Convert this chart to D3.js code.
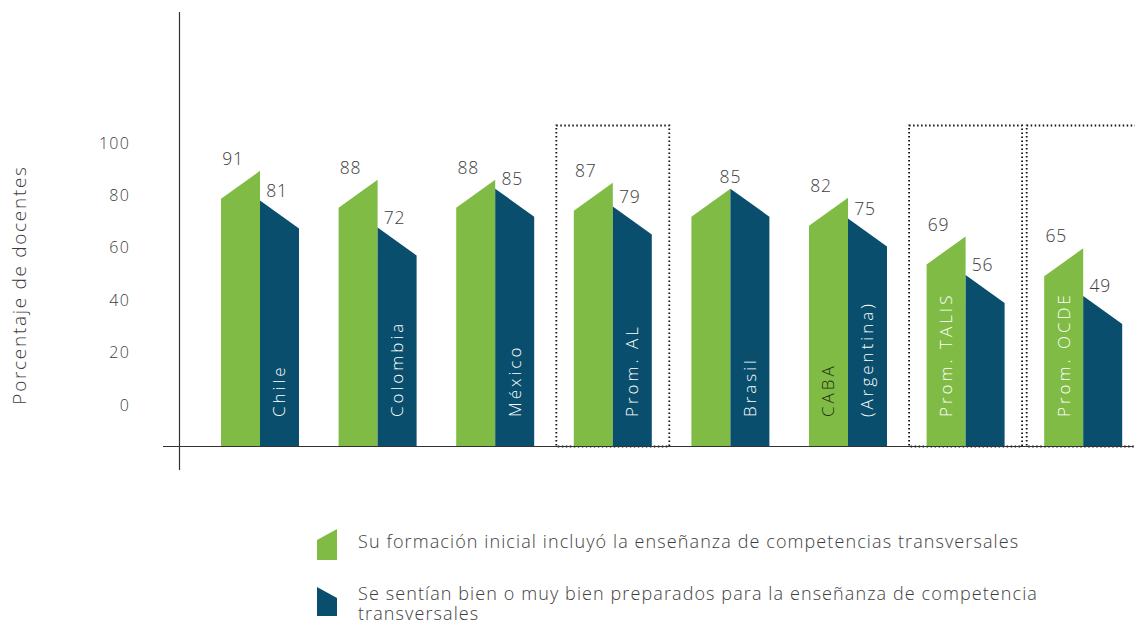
<!DOCTYPE html>
<html>
<head>
<meta charset="utf-8">
<script src="https://cdn.jsdelivr.net/npm/d3@7"></script>
<style>
  html, body { margin: 0; padding: 0; background: #ffffff; }
  svg { display: block; font-family: "Open Sans", "DejaVu Sans", sans-serif; font-weight: 300; }
</style>
</head>
<body>
<svg id="chart" width="1135" height="623"></svg>
<script>
// ---- data ----
const categories = ["Chile", "Colombia", "México", "Prom. AL", "Brasil", "CABA (Argentina)", "Prom. TALIS", "Prom. OCDE"];
const formacion = [91, 88, 88, 87, 85, 82, 69, 65];      // Su formación inicial incluyó...
const preparados = [81, 72, 85, 79, 85, 75, 56, 49];     // Se sentían bien o muy bien preparados...
const categoryLines = [["Chile"], ["Colombia"], ["México"], ["Prom. AL"], ["Brasil"], ["CABA", "(Argentina)"], ["Prom. TALIS"], ["Prom. OCDE"]];
const yTicks = [0, 20, 40, 60, 80, 100];
const seriesNames = [
  "Su formación inicial incluyó la enseñanza de competencias transversales",
  "Se sentían bien o muy bien preparados para la enseñanza de competencia transversales"
];
const axisTitle = "Porcentaje de docentes";

// ---- layout ----
const svg = d3.select("#chart");
const GREEN = "#80bc45";
const BLUE = "#0a4e6d";
const TEXT = "#3d3d3d";
const baseY = 446.5;
const slant = 28;

const x = d3.scaleBand().domain(categories).range([221, 1122.2]).paddingInner(0.3367).paddingOuter(0);
const w = x.bandwidth() / 2;
const y = d3.scaleLinear().domain([0, 100]).range([442, 144]);
const yLab = d3.scaleLinear().domain([0, 100]).range([405, 143]);

// dotted boxes for averages
const avgCats = categories.filter(c => c.startsWith("Prom."));
svg.append("g").selectAll("rect").data(avgCats).join("rect")
  .attr("x", c => x(c) - 17.5)
  .attr("y", 125.5)
  .attr("width", x.bandwidth() + 35)
  .attr("height", baseY - 125.5)
  .attr("fill", "none")
  .attr("stroke", "#111")
  .attr("stroke-width", 1.8)
  .attr("stroke-dasharray", "1.5,2.5");

// bars
const data = categories.map((c, i) => ({ c, g: formacion[i], b: preparados[i], lines: categoryLines[i] }));
const bars = svg.append("g");
bars.selectAll("path.green").data(data).join("path").attr("class", "green")
  .attr("fill", GREEN)
  .attr("d", d => {
    const x0 = x(d.c), yv = y(d.g);
    return `M${x0},${yv + slant}L${x0 + w},${yv}L${x0 + w},${baseY}L${x0},${baseY}Z`;
  });
bars.selectAll("path.blue").data(data).join("path").attr("class", "blue")
  .attr("fill", BLUE)
  .attr("d", d => {
    const x0 = x(d.c) + w, yv = y(d.b);
    return `M${x0},${yv}L${x0 + w},${yv + slant}L${x0 + w},${baseY}L${x0},${baseY}Z`;
  });

// axes lines
svg.append("line").attr("x1", 163).attr("x2", 1133).attr("y1", baseY).attr("y2", baseY)
  .attr("stroke", "#333").attr("stroke-width", 1.2);
svg.append("line").attr("x1", 179.5).attr("x2", 179.5).attr("y1", 12).attr("y2", 470)
  .attr("stroke", "#333").attr("stroke-width", 1.2);

// y tick labels
svg.append("g").selectAll("text").data(yTicks).join("text")
  .attr("x", 130).attr("y", t => yLab(t)).attr("dy", "0.35em")
  .attr("text-anchor", "end").attr("fill", TEXT)
  .style("font-size", "16px").style("letter-spacing", "1.2px")
  .text(t => t);

// axis title
svg.append("text")
  .attr("transform", `translate(19,285) rotate(-90)`)
  .attr("text-anchor", "middle").attr("dy", "0.35em")
  .attr("fill", TEXT).style("font-size", "19px").style("letter-spacing", "1.7px")
  .text(axisTitle);

// value labels
const vl = svg.append("g").attr("fill", TEXT).style("font-size", "17.5px").style("letter-spacing", "0.8px");
data.forEach(d => {
  if (d.g === d.b) {
    vl.append("text").attr("x", x(d.c) + w).attr("y", y(d.g) - 12).attr("dy", "0.35em")
      .attr("text-anchor", "middle").text(d.g);
  } else {
    vl.append("text").attr("x", x(d.c) + 12).attr("y", y(d.g) - 12).attr("dy", "0.35em")
      .attr("text-anchor", "middle").text(d.g);
    vl.append("text").attr("x", x(d.c) + w + 17).attr("y", y(d.b) - 10).attr("dy", "0.35em")
      .attr("text-anchor", "middle").text(d.b);
  }
});

// category labels (rotated, inside bars)
const cl = svg.append("g").style("font-size", "17px").style("letter-spacing", "3px");
data.forEach(d => {
  const onGreen = d.g < 70; // short blue bars: label sits on the green bar
  if (d.lines.length === 2) {
    cl.append("text").attr("transform", `translate(${x(d.c) + w / 2},417) rotate(-90)`)
      .attr("dy", "0.35em").attr("fill", "#1e2a12").text(d.lines[0]);
    cl.append("text").attr("transform", `translate(${x(d.c) + w * 1.5},417) rotate(-90)`)
      .attr("dy", "0.35em").attr("fill", "#ffffff").text(d.lines[1]);
  } else {
    const cx = onGreen ? x(d.c) + w / 2 : x(d.c) + w * 1.5;
    cl.append("text").attr("transform", `translate(${cx},417) rotate(-90)`)
      .attr("dy", "0.35em").attr("fill", "#ffffff").text(d.lines[0]);
  }
});

// legend
const lg = svg.append("g");
lg.append("path").attr("fill", GREEN).attr("d", "M317,540L337,529L337,560L317,560Z");
lg.append("path").attr("fill", BLUE).attr("d", "M317,587L337,598L337,616L317,616Z");
const legendStyle = t => t.attr("fill", TEXT).style("font-size", "18px").style("letter-spacing", "1.1px");
lg.append("text").attr("x", 358).attr("y", 542).attr("dy", "0.35em").call(legendStyle).text(seriesNames[0]);
const words = seriesNames[1].split(" ");
lg.append("text").attr("x", 358).attr("y", 594).attr("dy", "0.35em").call(legendStyle).text(words.slice(0, -1).join(" "));
lg.append("text").attr("x", 358).attr("y", 614).attr("dy", "0.35em").call(legendStyle).text(words[words.length - 1]);
</script>
</body>
</html>
